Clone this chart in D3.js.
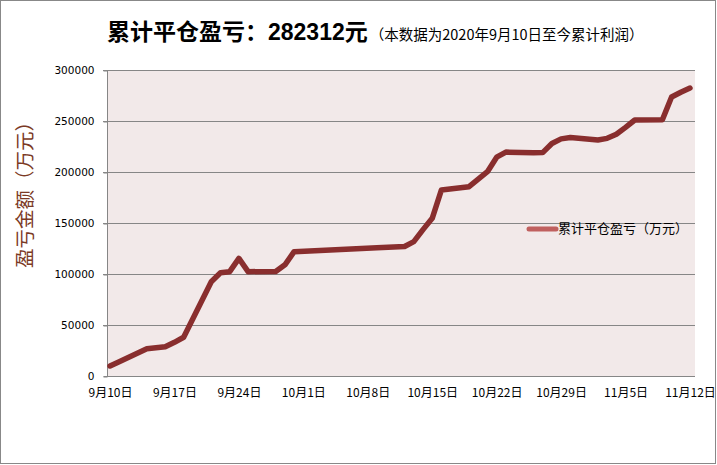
<!DOCTYPE html>
<html>
<head>
<meta charset="utf-8">
<script src="https://cdn.jsdelivr.net/npm/d3@7"></script>
<style>
  html, body { margin: 0; padding: 0; background: #fff; }
  svg { display: block; }
</style>
</head>
<body>
<svg id="chart" width="717" height="465"></svg>
<script>
// ---- data ----
const dates = ["2020-09-10","2020-09-11","2020-09-14","2020-09-15","2020-09-16","2020-09-17","2020-09-18",
  "2020-09-21","2020-09-22","2020-09-23","2020-09-24","2020-09-25","2020-09-28","2020-09-29","2020-09-30",
  "2020-10-09","2020-10-12","2020-10-13","2020-10-14","2020-10-15","2020-10-16","2020-10-19","2020-10-20",
  "2020-10-21","2020-10-22","2020-10-23","2020-10-26","2020-10-27","2020-10-28","2020-10-29","2020-10-30",
  "2020-11-02","2020-11-03","2020-11-04","2020-11-05","2020-11-06","2020-11-09","2020-11-10","2020-11-11","2020-11-12"];
const values = [9800,14000,26700,27600,28600,33000,38000,
  92400,101300,102300,115300,102300,102400,109000,121900,
  125800,127000,131700,143500,154600,182400,185600,193000,
  200300,214500,219500,218800,219000,228000,232500,233800,
  231400,233000,237000,243800,251000,251200,273500,278200,282312];
const xTickDates = ["2020-09-10","2020-09-17","2020-09-24","2020-10-01","2020-10-08","2020-10-15","2020-10-22","2020-10-29","2020-11-05","2020-11-12"];
const yTicks = [0,50000,100000,150000,200000,250000,300000];
const titleMain = "累计平仓盈亏：282312元";
const titleNote = "（本数据为2020年9月10日至今累计利润）";
const yTitle = "盈亏金额（万元）";
const seriesName = "累计平仓盈亏（万元）";

// ---- drawing ----
const parse = d3.utcParse("%Y-%m-%d");
const data = dates.map((d, i) => ({ date: parse(d), value: values[i] }));
const svg = d3.select("#chart");
const W = 717, H = 465;
const plot = { left: 107, right: 695, top: 70, bottom: 376 };

svg.append("rect").attr("x", 0.5).attr("y", 0.5).attr("width", W - 2).attr("height", H - 2)
  .attr("fill", "#fff").attr("stroke", "#888").attr("stroke-width", 1);

const x = d3.scaleUtc().domain([parse("2020-09-10"), parse("2020-11-12")]).range([110, 690]);
const y = d3.scaleLinear().domain([0, 300000]).range([plot.bottom, plot.top]);

svg.append("rect").attr("x", plot.left).attr("y", plot.top)
  .attr("width", plot.right - plot.left).attr("height", plot.bottom - plot.top)
  .attr("fill", "#F2E9E9");

// gridlines
svg.append("g").selectAll("line").data(yTicks.filter(v => v > 0)).join("line")
  .attr("x1", plot.left - 4).attr("x2", plot.right)
  .attr("y1", d => Math.round(y(d)) + 0.5).attr("y2", d => Math.round(y(d)) + 0.5)
  .attr("stroke", "#868686").attr("stroke-width", 1);

// y axis
const yAxis = d3.axisLeft(y).tickValues(yTicks).tickSize(4).tickPadding(9).tickFormat(d3.format("d"));
const gy = svg.append("g").attr("transform", `translate(${plot.left + 0.5},0.5)`).call(yAxis);
gy.select(".domain").attr("stroke", "#868686").attr("d", `M-4,${plot.top}H0V${plot.bottom}H-4`);
gy.selectAll(".tick line").attr("stroke", "#868686");
gy.selectAll(".tick text").attr("font-family", "DejaVu Sans, sans-serif").attr("font-size", "10.5px").attr("fill", "#000");

// x axis
const xAxis = d3.axisBottom(x).tickValues(xTickDates.map(parse)).tickSize(0).tickPadding(12)
  .tickFormat(d => (d.getUTCMonth() + 1) + "月" + d.getUTCDate() + "日");
const gx = svg.append("g").attr("transform", `translate(0,${plot.bottom + 0.5})`).call(xAxis);
gx.select(".domain").attr("stroke", "#868686").attr("d", `M${plot.left},0H${plot.right}`);
gx.selectAll(".tick text").attr("font-family", "'Noto Sans CJK SC', sans-serif").attr("font-size", "12px").attr("fill", "#000");

// line
const line = d3.line().x(d => x(d.date)).y(d => y(d.value));
svg.append("path").datum(data).attr("d", line)
  .attr("fill", "none").attr("stroke", "#892E2E").attr("stroke-width", 5.5)
  .attr("stroke-linejoin", "round").attr("stroke-linecap", "round");

// legend
const lg = svg.append("g").attr("transform", "translate(529,229)");
lg.append("line").attr("x1", 0).attr("x2", 27).attr("y1", 0).attr("y2", 0)
  .attr("stroke", "#C0605F").attr("stroke-width", 5).attr("stroke-linecap", "round");
lg.append("text").attr("x", 29).attr("y", 4).text(seriesName)
  .attr("font-family", "'Noto Sans CJK SC', sans-serif").attr("font-size", "13px").attr("fill", "#000");

// title
const t = svg.append("text").attr("x", 107).attr("y", 40);
t.append("tspan").text(titleMain).attr("font-family", "'Liberation Sans', 'Noto Sans CJK SC', sans-serif")
  .attr("font-weight", "bold").attr("font-size", "23px").attr("fill", "#000");
t.append("tspan").text(titleNote).attr("font-family", "'Noto Sans CJK SC', sans-serif")
  .attr("font-size", "14.5px").attr("fill", "#000").attr("dx", 2);

// y title
svg.append("text").attr("transform", "translate(32,190) rotate(-90)").attr("text-anchor", "middle")
  .text(yTitle).attr("font-family", "'Noto Sans CJK SC', sans-serif").attr("font-size", "19.5px").attr("fill", "#7B3A25");
</script>
</body>
</html>
